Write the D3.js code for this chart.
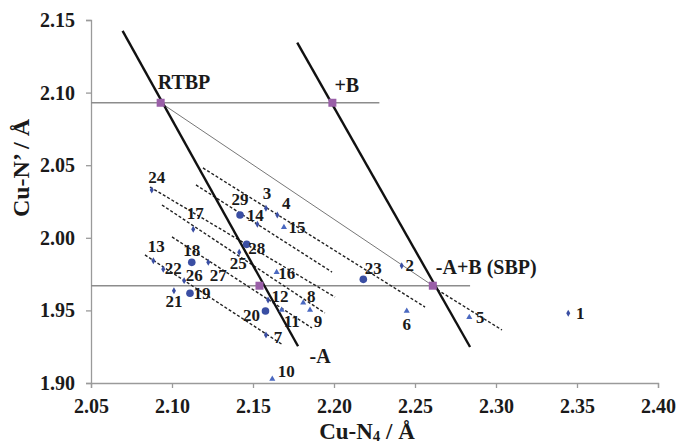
<!DOCTYPE html>
<html>
<head>
<meta charset="utf-8">
<script src="https://cdn.jsdelivr.net/npm/d3@7"></script>
<style>
  body { margin: 0; background: #fff; }
  svg text { font-family: "Liberation Serif", "Times New Roman", serif; font-weight: bold; fill: #1a1a1a; }
</style>
</head>
<body>
<div id="chart"></div>
<script>
// complexes: [id, Cu-N4, Cu-N']
const circles = [
    ["29", 2.142, 2.0157], ["18", 2.1122, 1.9831], ["19", 2.1111, 1.9618],
    ["20", 2.1577, 1.9496], ["23", 2.2181, 1.9714], ["28", 2.1461, 1.9955]
];
const dots = [
    ["1", 2.3446, 1.948], ["2", 2.2418, 1.9808], ["3", 2.158, 2.0203],
    ["4", 2.165, 2.0157], ["7", 2.158, 1.933], ["13", 2.0885, 1.9842],
    ["14", 2.1527, 2.0093], ["17", 2.1131, 2.0059], ["21", 2.1012, 1.9636],
    ["22", 2.0946, 1.9783], ["24", 2.0875, 2.0329], ["25", 2.1415, 1.99],
    ["26", 2.1075, 1.9705], ["27", 2.1224, 1.9831], ["12", 2.1593, 1.9572]
];
const triangles = [
    ["5", 2.2835, 1.9452], ["6", 2.2449, 1.9496], ["8", 2.181, 1.9553],
    ["9", 2.1852, 1.9503], ["10", 2.1619, 1.9028], ["11", 2.1677, 1.9503],
    ["15", 2.1691, 2.0072], ["16", 2.1646, 1.9762]
];
// reference structures
const refPoints = [["RTBP", 2.093, 2.093], ["+B", 2.199, 2.093], ["-A", 2.154, 1.967], ["-A+B (SBP)", 2.261, 1.967]];
const levelLines = [[2.05, 2.093, 2.228, 2.093], [2.05, 1.967, 2.284, 1.967]];
const thickLines = [[2.0695, 2.1425, 2.1778, 1.9253], [2.1773, 2.1344, 2.284, 1.9248]];
const thinLines = [[2.093, 2.093, 2.261, 1.967]];
const dashedLines = [
    [2.1191, 2.0481, 2.2562, 1.9523],
    [2.1148, 2.0364, 2.1988, 1.9764],
    [2.0864, 2.035, 2.2006, 1.9592],
    [2.0938, 2.0226, 2.1944, 1.9482],
    [2.1, 2.0006, 2.1864, 1.9379],
    [2.0833, 1.9882, 2.1685, 1.9262],
    [2.2611, 1.9661, 2.3037, 1.9365]
];
const xTicks = [2.05, 2.10, 2.15, 2.20, 2.25, 2.30, 2.35, 2.40];
const yTicks = [1.90, 1.95, 2.00, 2.05, 2.10, 2.15];

// label placement relative to the marker (layout only)
const labelOffset = {
    "1": [12, 0], "2": [8, 0], "3": [1, -15], "4": [9, -12], "5": [11, 0], "6": [0, 14],
    "7": [12, 2], "8": [8, -6], "9": [8, 12], "10": [14, -7], "11": [10, 12], "12": [12, -3],
    "13": [3, -14], "14": [-2, -9], "15": [13, 0], "16": [10, 1], "17": [2, -16], "18": [0, -12],
    "19": [12, 0], "20": [-14, 5], "21": [0, 11], "22": [10, -1], "23": [10, -11], "24": [5, -13],
    "25": [-1, 11], "26": [10, -5], "27": [10, 13], "28": [10, 4], "29": [0, -16]
};
const refLabelPos = { "RTBP": [-3, -21], "+B": [2, -18], "-A": [50, 70], "-A+B (SBP)": [3, -19] };

const W = 676, H = 445;
const x = d3.scaleLinear().domain([2.05, 2.40]).range([91, 658]);
const y = d3.scaleLinear().domain([1.90, 2.15]).range([383, 20]);

const svg = d3.select('#chart').append('svg').attr('width', W).attr('height', H);

// axes
const gx = svg.append('g').attr('transform', `translate(0,${y(1.90)})`)
    .call(d3.axisBottom(x).tickValues(xTicks).tickFormat(d3.format('.2f')).tickSize(5).tickPadding(11));
const gy = svg.append('g').attr('transform', `translate(${x(2.05)},0)`)
    .call(d3.axisLeft(y).tickValues(yTicks).tickFormat(d3.format('.2f')).tickSize(5).tickPadding(11));
[gx, gy].forEach(g => {
    g.select('.domain').attr('stroke', '#9a9a9a').attr('stroke-width', 1.3);
    g.selectAll('.tick line').attr('stroke', '#9a9a9a').attr('stroke-width', 1.3);
    g.selectAll('.tick text').attr('font-size', 20).attr('fill', '#1a1a1a')
        .attr('font-family', '"Liberation Serif", serif').attr('font-weight', 'bold');
});

const seg = (sel, data) => sel.selectAll(null).data(data).enter().append('line')
    .attr('x1', d => x(d[0])).attr('y1', d => y(d[1]))
    .attr('x2', d => x(d[2])).attr('y2', d => y(d[3]));

seg(svg.append('g'), levelLines).attr('stroke', '#8c8c8c').attr('stroke-width', 1.6);
seg(svg.append('g'), thinLines).attr('stroke', '#777').attr('stroke-width', 1);
seg(svg.append('g'), dashedLines).attr('stroke', '#222').attr('stroke-width', 1.4).attr('stroke-dasharray', '3,2');
seg(svg.append('g'), thickLines).attr('stroke', '#111').attr('stroke-width', 2.4);

// reference corners
svg.append('g').selectAll('rect').data(refPoints).enter().append('rect')
    .attr('x', d => x(d[1]) - 4).attr('y', d => y(d[2]) - 4)
    .attr('width', 8).attr('height', 8).attr('fill', '#9a5fa8');
svg.append('g').selectAll('text').data(refPoints).enter().append('text')
    .attr('x', d => x(d[1]) + refLabelPos[d[0]][0])
    .attr('y', d => y(d[2]) + refLabelPos[d[0]][1])
    .attr('dominant-baseline', 'central').attr('font-size', 20)
    .text(d => d[0]);

// data markers
svg.append('g').selectAll('circle').data(circles).enter().append('circle')
    .attr('cx', d => x(d[1])).attr('cy', d => y(d[2])).attr('r', 3.8).attr('fill', '#3a4ea3');
svg.append('g').selectAll('path').data(dots).enter().append('path')
    .attr('d', d3.symbol(d3.symbolDiamond, 14))
    .attr('transform', d => `translate(${x(d[1])},${y(d[2])})`).attr('fill', '#3a4ea3');
svg.append('g').selectAll('path').data(triangles).enter().append('path')
    .attr('d', d3.symbol(d3.symbolTriangle, 16))
    .attr('transform', d => `translate(${x(d[1])},${y(d[2])})`).attr('fill', '#4a68c0');

const all = circles.concat(dots, triangles);
svg.append('g').selectAll('text').data(all).enter().append('text')
    .attr('x', d => x(d[1]) + labelOffset[d[0]][0])
    .attr('y', d => y(d[2]) + labelOffset[d[0]][1])
    .attr('text-anchor', 'middle').attr('dominant-baseline', 'central')
    .attr('font-size', 17)
    .text(d => d[0]);

// axis titles
const xt = svg.append('text').attr('x', 367).attr('y', 439).attr('text-anchor', 'middle').attr('font-size', 23);
xt.append('tspan').text('Cu-N');
xt.append('tspan').attr('font-size', 15).attr('dy', 2).text('4');
xt.append('tspan').attr('dy', -2).text(' / Å');
svg.append('text').attr('transform', 'translate(29,168) rotate(-90)')
    .attr('text-anchor', 'middle').attr('font-size', 24).text('Cu-N’ / Å');
</script>
</body>
</html>
